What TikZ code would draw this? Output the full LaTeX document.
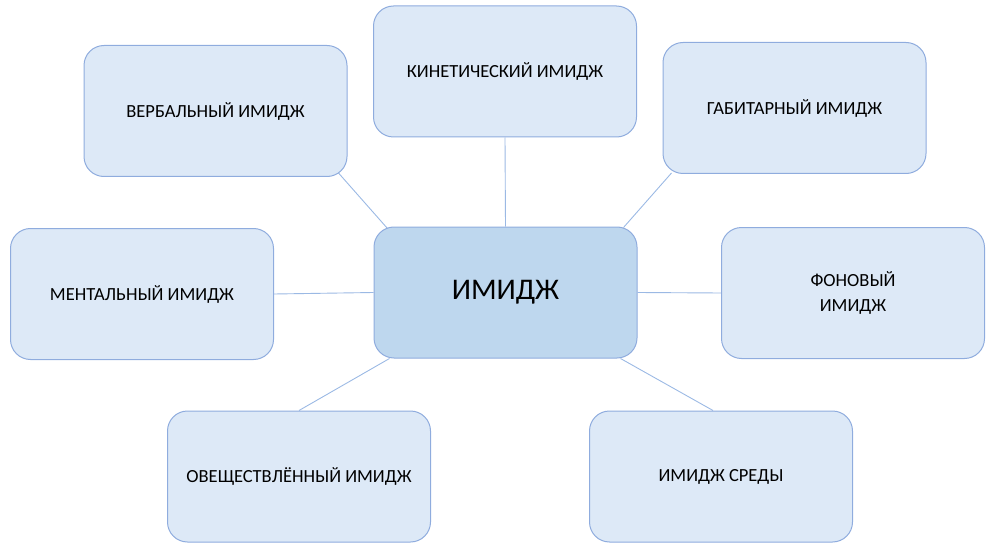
\documentclass[tikz,border=0pt]{standalone}
\usepackage{fontspec}
\setmainfont{Carlito}
\usetikzlibrary{backgrounds}
\definecolor{boxfill}{RGB}{221,233,247}
\definecolor{boxdraw}{RGB}{143,172,222}
\definecolor{cfill}{RGB}{190,215,238}
\definecolor{linec}{RGB}{155,185,228}
\begin{document}
\begin{tikzpicture}[x=1pt,y=-1pt,
  box/.style={draw=boxdraw, line width=1pt, fill=boxfill, rounded corners=20pt,
    minimum width=263pt, minimum height=131pt, inner sep=0pt, align=center,
    font=\fontsize{18.5}{25}\selectfont},
  hub/.style={box, fill=cfill, font=\fontsize{30}{34}\selectfont},
  link/.style={draw=linec, line width=0.9pt}]
\useasboundingbox (0,0) rectangle (994,559);
\node[hub] (c) at (505.5,292.5) {ИМИДЖ};
\node[box] (v) at (215.5,111) {ВЕРБАЛЬНЫЙ ИМИДЖ};
\node[box] (k) at (505,71.5) {КИНЕТИЧЕСКИЙ ИМИДЖ};
\node[box] (g) at (794.5,108) {ГАБИТАРНЫЙ ИМИДЖ};
\node[box] (m) at (142,294) {МЕНТАЛЬНЫЙ ИМИДЖ};
\node[box] (f) at (853,293) {ФОНОВЫЙ\\ИМИДЖ};
\node[box] (o) at (299,476.5) {ОВЕЩЕСТВЛЁННЫЙ ИМИДЖ};
\node[box] (s) at (721,476.5) {ИМИДЖ СРЕДЫ};
\begin{pgfonlayer}{background}
\draw[link] ([shift={(-9,-4)}]v.south east) -- ([shift={(14,2)}]c.north west);
\draw[link] (k.south) -- (c.north);
\draw[link] ([shift={(9,-1)}]g.south west) -- ([shift={(-14,1)}]c.north east);
\draw[link] (m.east) -- (c.west);
\draw[link] (c.east) -- (f.west);
\draw[link] (o.north) -- ([shift={(16,0)}]c.south west);
\draw[link] ([shift={(-8,0)}]s.north) -- ([shift={(-17,0)}]c.south east);
\end{pgfonlayer}
\end{tikzpicture}
\end{document}
